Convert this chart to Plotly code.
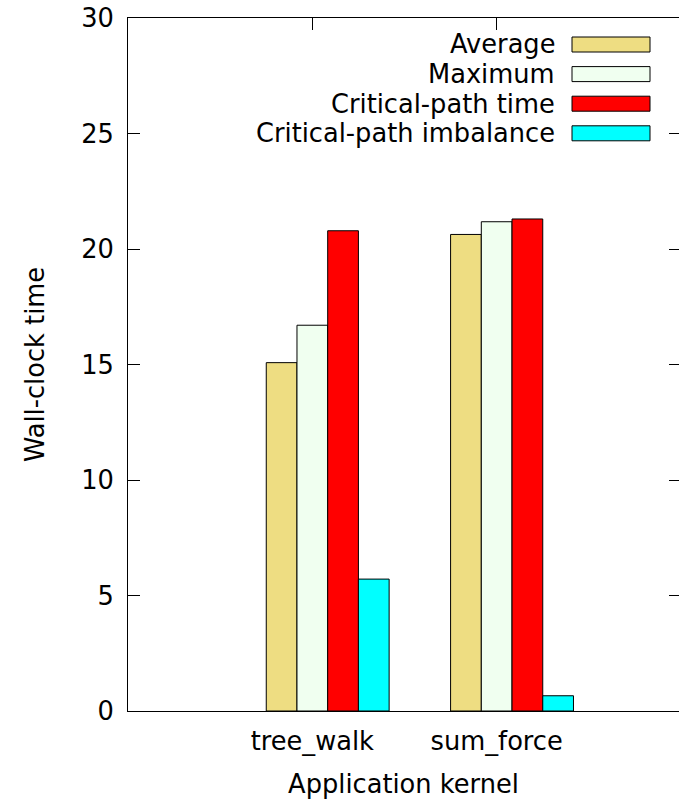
import plotly.graph_objects as go

categories = ["tree_walk", "sum_force"]
series_names = ["Average", "Maximum", "Critical-path time", "Critical-path imbalance"]
average = [15.08, 20.63]
maximum = [16.70, 21.18]
cp_time = [20.79, 21.30]
cp_imbalance = [5.71, 0.66]
series_values = [average, maximum, cp_time, cp_imbalance]
colors = ["#EEDD82", "#F0FFF0", "#FF0000", "#00FFFF"]
y_ticks = [0, 5, 10, 15, 20, 25, 30]

W, H = 679, 799
ML, MR, MT, MB = 128, 0, 18, 88
FONT = "DejaVu Sans"
FS = 25.7

fig = go.Figure()
n = len(series_names)
bw = 1.0 / (n + 2)
for j, (name, vals, col) in enumerate(zip(series_names, series_values, colors)):
    fig.add_trace(go.Bar(
        x=categories, y=vals, name=name, width=bw, offset=-0.25 + j * bw,
        marker=dict(color=col, line=dict(color="black", width=1)),
        showlegend=False,
    ))

# invisible trace to carry mirrored right axis ticks
fig.add_trace(go.Scatter(x=[], y=[], yaxis="y2", showlegend=False, hoverinfo="skip"))

pw = W - ML - MR
ph = H - MT - MB
def px_x(p):
    return (p - ML) / pw
def px_y(p):
    return 1 - (p - MT) / ph

# custom gnuplot-style legend (text right, sample box left)
shapes = []
annotations = []
for i, (name, col) in enumerate(zip(series_names, colors)):
    yc = 44.5 + 29.6 * i
    annotations.append(dict(
        x=px_x(557), y=px_y(yc), xref="paper", yref="paper",
        text=name, showarrow=False, xanchor="right", yanchor="middle",
        font=dict(family=FONT, size=FS, color="black"),
    ))
    shapes.append(dict(
        type="rect", xref="paper", yref="paper",
        x0=px_x(572), x1=px_x(650), y0=px_y(yc - 7.5), y1=px_y(yc + 7.5),
        fillcolor=col, line=dict(color="black", width=1),
    ))

fig.update_layout(
    width=W, height=H,
    margin=dict(l=ML, r=MR, t=MT, b=MB),
    paper_bgcolor="white", plot_bgcolor="white",
    font=dict(family=FONT, size=FS, color="black"),
    barmode="overlay",
    shapes=shapes, annotations=annotations,
    xaxis=dict(
        type="category", range=[-1, (W - 312) / 184.5], showgrid=False,
        showline=True, linecolor="black", linewidth=1, mirror="ticks",
        ticks="inside", ticklen=12, tickcolor="black", automargin=False,
        tickfont=dict(family=FONT, size=FS), layer="below traces",
        ticklabelstandoff=7,
        title=dict(text="Application kernel", font=dict(family=FONT, size=FS), standoff=21),
    ),
    yaxis=dict(
        range=[0, 30], tickvals=y_ticks, showgrid=False, zeroline=False,
        showline=True, linecolor="black", linewidth=1, automargin=False,
        ticks="inside", ticklen=12, tickcolor="black",
        tickfont=dict(family=FONT, size=FS), ticklabelstandoff=8,
        title=dict(text="Wall-clock time", font=dict(family=FONT, size=FS), standoff=29),
    ),
    yaxis2=dict(
        overlaying="y", side="right", range=[0, 30], tickvals=y_ticks,
        showticklabels=False, showgrid=False, zeroline=False, showline=False,
        ticks="inside", ticklen=10, tickcolor="black", automargin=False,
    ),
)

fig.write_html(
    "out.html",
    config={"displayModeBar": False},
    post_script="document.body.style.margin='0';document.body.style.overflow='hidden';",
)
